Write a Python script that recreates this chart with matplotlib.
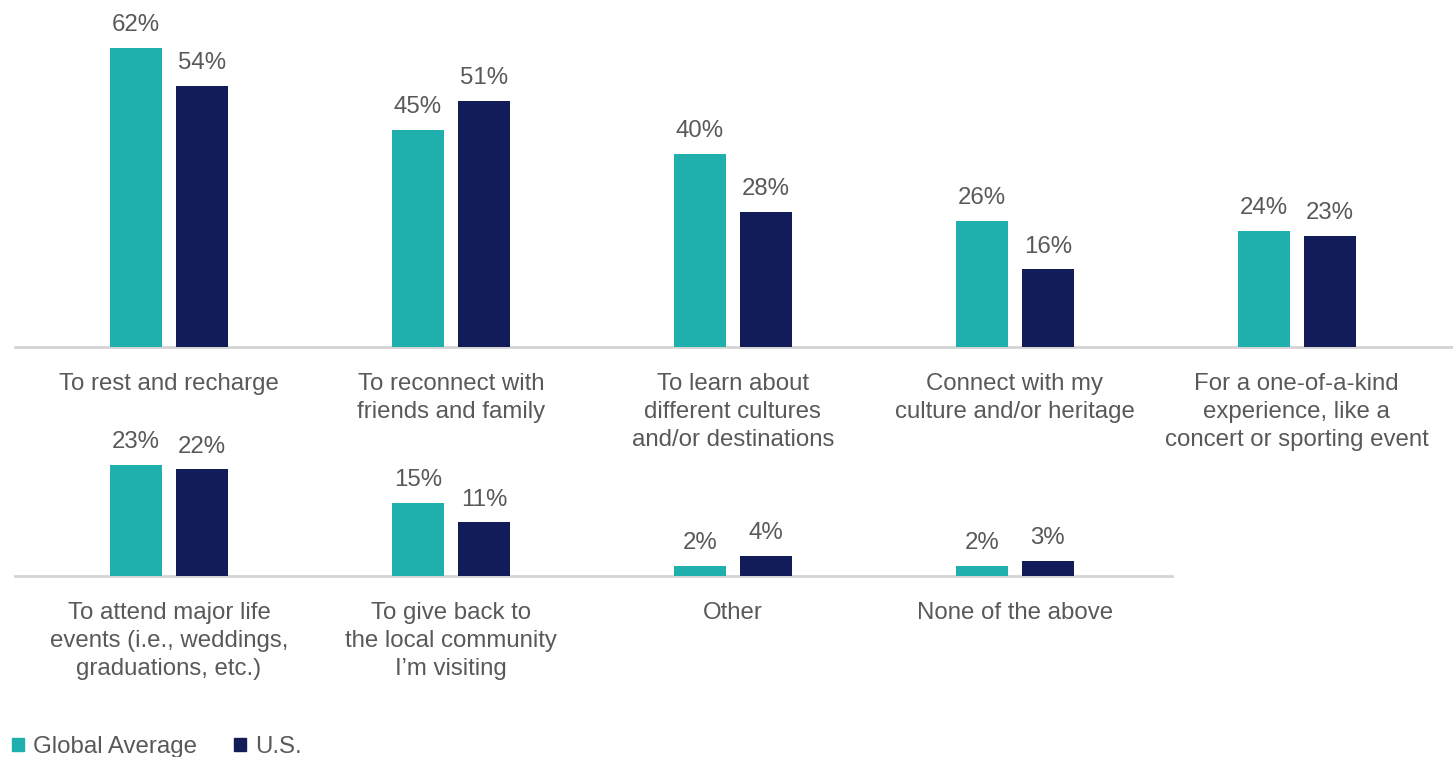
import matplotlib
matplotlib.use("Agg")
import matplotlib.pyplot as plt
from matplotlib.patches import Patch

plt.rcParams['font.family'] = ['Liberation Sans', 'DejaVu Sans']

# Reasons for travel, split over two rows
top_categories = [
    "To rest and recharge",
    "To reconnect with\nfriends and family",
    "To learn about\ndifferent cultures\nand/or destinations",
    "Connect with my\nculture and/or heritage",
    "For a one-of-a-kind\nexperience, like a\nconcert or sporting event",
]
top_global = [62, 45, 40, 26, 24]
top_us = [54, 51, 28, 16, 23]

bottom_categories = [
    "To attend major life\nevents (i.e., weddings,\ngraduations, etc.)",
    "To give back to\nthe local community\nI\u2019m visiting",
    "Other",
    "None of the above",
]
bottom_global = [23, 15, 2, 2]
bottom_us = [22, 11, 4, 3]

series_names = ["Global Average", "U.S."]

TEAL = "#1FB0AE"
NAVY = "#121C58"
TEXT = "#595959"
AXIS = "#D4D4D4"
FS = 17.3

W, H = 1453, 757
fig = plt.figure(figsize=(W / 100, H / 100), dpi=100)

PX_PER_PCT = 4.82
UNIT = 281.9          # pixels per category
LEFT = 15
X0 = 169              # pixel centre of the first category
BAR_W = 52 / UNIT
OFF = 33 / UNIT


def make_axes(base_y, top_y, right_x, n):
    ax = fig.add_axes([LEFT / W, (H - base_y) / H, (right_x - LEFT) / W,
                       (base_y - top_y) / H])
    ax.set_xlim((LEFT - X0) / UNIT, (right_x - X0) / UNIT)
    ax.set_ylim(0, (base_y - top_y) / PX_PER_PCT)
    ax.axis("off")
    ax.axhline(0, color=AXIS, lw=2, zorder=1, clip_on=False)
    return ax


def draw_row(ax, cats, g, u):
    xs = list(range(len(cats)))
    b1 = ax.bar([x - OFF for x in xs], g, width=BAR_W, color=TEAL, zorder=2)
    b2 = ax.bar([x + OFF for x in xs], u, width=BAR_W, color=NAVY, zorder=2)
    for bars, vals in ((b1, g), (b2, u)):
        for rect, v in zip(bars, vals):
            ax.annotate(f"{v}%", xy=(rect.get_x() + rect.get_width() / 2, v),
                        xytext=(0, 8.5), textcoords="offset points",
                        ha="center", va="bottom", fontsize=FS, color=TEXT,
                        annotation_clip=False)
    for x, c in zip(xs, cats):
        ax.annotate(c, xy=(x, 0), xytext=(0, -19.2), textcoords="offset points",
                    ha="center", va="top", fontsize=FS, color=TEXT,
                    linespacing=1.36, annotation_clip=False)


ax_top = make_axes(346.5, 0, 1453, len(top_categories))
draw_row(ax_top, top_categories, top_global, top_us)

ax_bot = make_axes(575.5, 440, 1172, len(bottom_categories))
draw_row(ax_bot, bottom_categories, bottom_global, bottom_us)

handles = [Patch(color=TEAL), Patch(color=NAVY)]
fig.legend(handles, series_names, loc="upper left",
           bbox_to_anchor=(12 / W, (H - 736) / H), ncol=2, frameon=False,
           fontsize=FS, labelcolor=TEXT, handlelength=0.5, handleheight=0.5,
           handletextpad=0.38, columnspacing=1.55, borderaxespad=0,
           borderpad=0)

fig.savefig("out.png", dpi=100)
